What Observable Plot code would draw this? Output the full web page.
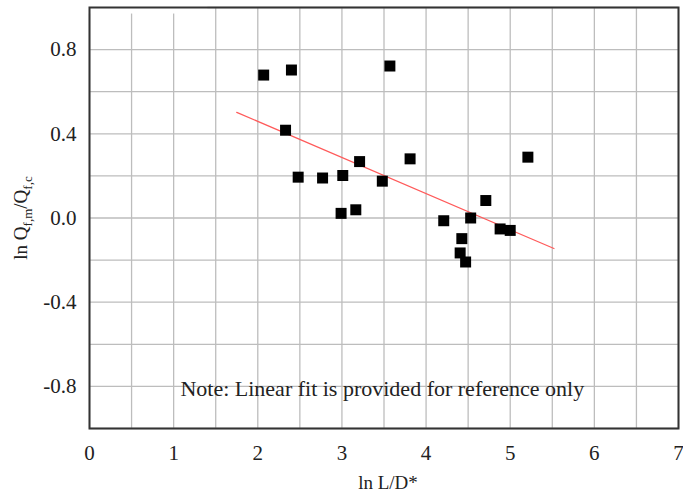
<!DOCTYPE html>
<html><head><meta charset="utf-8">
<script src="https://cdn.jsdelivr.net/npm/d3@7"></script>
<script src="https://cdn.jsdelivr.net/npm/@observablehq/plot@0.6"></script>
<style>body{margin:0;background:#fff} svg text{font-family:"Liberation Serif","Times New Roman",serif;}</style>
</head><body><div id="chart"></div>
<script>
// measured points: ln L/D* vs ln Qf,m/Qf,c
const lnLD = [2.07, 2.40, 2.33, 2.48, 2.77, 3.01, 3.21, 3.57, 3.48, 3.81, 2.99, 3.165, 5.21, 4.71, 4.21, 4.53, 4.88, 5.00, 4.425, 4.405, 4.47];
const lnQ  = [0.679, 0.703, 0.417, 0.194, 0.190, 0.202, 0.268, 0.722, 0.175, 0.281, 0.022, 0.039, 0.289, 0.083, -0.013, 0.000, -0.052, -0.059, -0.098, -0.166, -0.209];
// linear fit endpoints
const fitX = [1.75, 5.52];
const fitY = [0.502, -0.145];
const xTicks = [0, 1, 2, 3, 4, 5, 6, 7];
const yTicks = [-0.8, -0.4, 0, 0.4, 0.8];
const xGrid = [0, 0.5, 1, 1.5, 2, 2.5, 3, 3.5, 4, 4.5, 5, 5.5, 6, 6.5, 7];
const yGrid = [-1, -0.8, -0.6, -0.4, -0.2, 0, 0.2, 0.4, 0.6, 0.8, 1];
const noteText = ["Note: Linear fit is provided for reference only"];
const xLabel = "ln L/D*";

const serif = "'Liberation Serif', 'Times New Roman', serif";
const points = lnLD.map((x, i) => ({x, y: lnQ[i]}));
const fit = fitX.map((x, i) => ({x, y: fitY[i]}));

const chart = Plot.plot({
  width: 683, height: 495,
  marginLeft: 89, marginRight: 5, marginTop: 7, marginBottom: 67,
  style: {fontFamily: serif, fontSize: "21px", color: "#222", background: "#fff"},
  x: {domain: [0, 7]},
  y: {domain: [-1, 1]},
  marks: [
    Plot.gridX(xGrid, {stroke: "#bdbdbd", strokeOpacity: 1, strokeWidth: 1.3}),
    Plot.gridY(yGrid, {stroke: "#bdbdbd", strokeOpacity: 1, strokeWidth: 1.3}),
    Plot.text(noteText, {x: () => 3.48, y: () => -0.814, text: d => d, fontSize: 22, fontFamily: serif, fill: "#222"}),
    Plot.line(fit, {x: "x", y: "y", stroke: "#ff5a5a", strokeWidth: 1.2}),
    Plot.dot(points, {x: "x", y: "y", symbol: "square", r: 6.2, fill: "#000", stroke: "none"}),
    Plot.frame({stroke: "#333", strokeWidth: 2}),
    Plot.axisX(xTicks, {tickSize: 0, tickPadding: 17, tickFormat: d => String(d), label: xLabel, labelAnchor: "center", labelOffset: 60, fontSize: 21, fontFamily: serif}),
    Plot.axisY(yTicks, {tickSize: 0, tickPadding: 13, tickFormat: d => d.toFixed(1), label: "ln Qf,m/Qf,c", labelAnchor: "center", labelOffset: 76, fontSize: 21, fontFamily: serif})
  ]
});
document.getElementById("chart").appendChild(chart);

const svg = d3.select(chart);
// x label without arrow, nudged to match
svg.select('g[aria-label="x-axis label"] text').attr("font-size", 19).text(xLabel).attr("dx", 4);
// y label with subscripts
const yl = svg.select('g[aria-label="y-axis label"] text').attr("font-size", 19);
yl.text(null);
yl.append("tspan").text("ln Q");
yl.append("tspan").attr("font-size", 13).attr("dy", 5).text("f,m");
yl.append("tspan").attr("dy", -5).text("/Q");
yl.append("tspan").attr("font-size", 13).attr("dy", 5).text("f,c");

// white box behind the note
const noteSel = svg.selectAll("text").filter(function () { return this.textContent === noteText[0]; });
const noteNode = noteSel.node();
if (noteNode) {
  const bb = noteNode.getBBox();
  d3.select(noteNode.parentNode).insert("rect", ":first-child")
    .attr("x", bb.x - 7).attr("y", bb.y + 1)
    .attr("width", bb.width + 12).attr("height", bb.height)
    .attr("fill", "#fff");
}
</script>
</body></html>
